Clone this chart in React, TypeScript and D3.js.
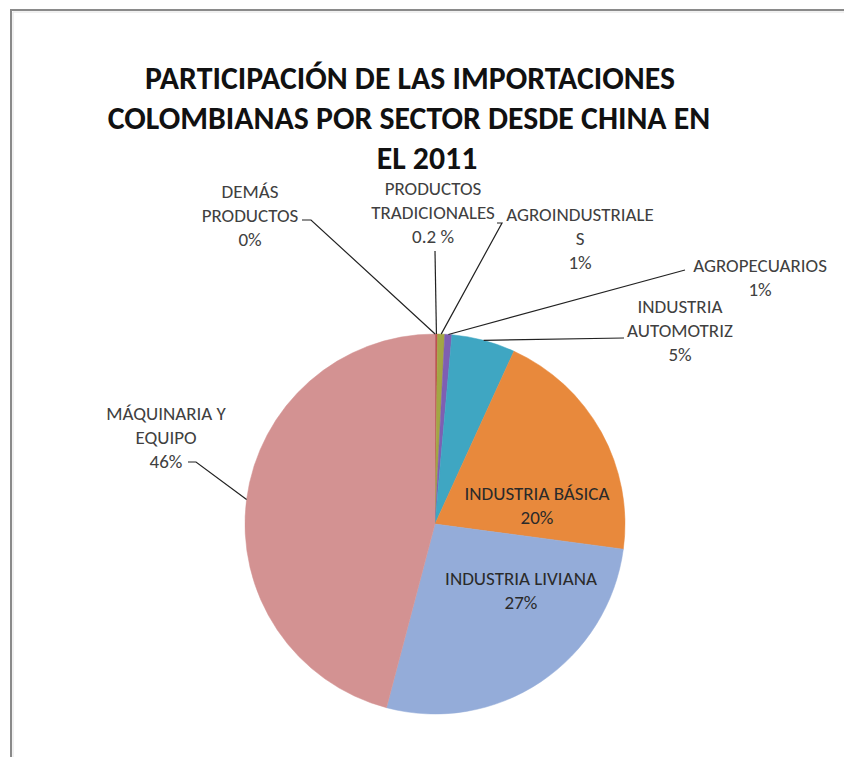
import * as d3 from "d3";

// data (percent of imports, 2011)
const sectors = [
    "DEMÁS PRODUCTOS",
    "PRODUCTOS TRADICIONALES",
    "AGROINDUSTRIALES",
    "AGROPECUARIOS",
    "INDUSTRIA AUTOMOTRIZ",
    "INDUSTRIA BÁSICA",
    "INDUSTRIA LIVIANA",
    "MÁQUINARIA Y EQUIPO",
];
const shares = [0.02, 0.2, 0.6, 0.6, 5.4, 20.3, 27, 45.9];
const shareLabels = ["0%", "0.2 %", "1%", "1%", "5%", "20%", "27%", "46%"];
// how the labels break over lines in the original
const labelLines = [
    ["DEMÁS", "PRODUCTOS"],
    ["PRODUCTOS", "TRADICIONALES"],
    ["AGROINDUSTRIALE", "S"],
    ["AGROPECUARIOS"],
    ["INDUSTRIA", "AUTOMOTRIZ"],
    ["INDUSTRIA BÁSICA"],
    ["INDUSTRIA LIVIANA"],
    ["MÁQUINARIA Y", "EQUIPO"],
];
const titleLines = [
    "PARTICIPACIÓN DE LAS IMPORTACIONES",
    "COLOMBIANAS POR SECTOR DESDE CHINA EN",
    "EL 2011",
];

const colors = ["#4F81BD", "#C0504D", "#A2A644", "#7E5FB3", "#3FA6C2", "#E8893C", "#94ACD9", "#D39292"];

// label placement: text center x, first baseline y, leader elbow points (null = inside label)
const labelLayout: { x: number, y: number, leader: [number, number][] | null }[] = [
    { x: 250, y: 198, leader: [[311, 220], [302, 220]] },
    { x: 433, y: 195, leader: [[435, 251]] },
    { x: 580, y: 221, leader: [[502, 223], [497, 223]] },
    { x: 760, y: 272, leader: [[685, 270]] },
    { x: 680, y: 313, leader: [[624, 338]] },
    { x: 537, y: 500, leader: null },
    { x: 521, y: 585, leader: null },
    { x: 166, y: 420, leader: [[196, 462], [188, 462]] },
];
const titleX = [410, 409, 427];

const App = () => {
    const width = 844;
    const height = 757;
    const cx = 435;
    const cy = 524;
    const radius = 190;
    const lineH = 24;
    const font = "Carlito, Calibri, Lato, sans-serif";

    const pie = d3.pie<number>().sort(null).value(d => d);
    const arcs = pie(shares);
    const arc = d3.arc<d3.PieArcDatum<number>>().innerRadius(0).outerRadius(radius);
    const edge = d3.arc<d3.PieArcDatum<number>>().innerRadius(radius).outerRadius(radius);
    const leaderLine = d3.line();

    return (
        <svg width={width} height={height} style={{ position: 'absolute', left: 0, top: 0, background: '#fff' }}>
            <path d={`M11,${height} L11,10 L${width},10`} fill="none" stroke="#8a8a8a" strokeWidth={2} />
            <path d={`M13,${height} L13,12 L${width},12`} fill="none" stroke="#e2e2e2" strokeWidth={1} />

            <g fontFamily={font} fontWeight="bold" fontSize={31.8} fill="#111" textAnchor="middle">
                { titleLines.map((t, i) => <text key={i} x={titleX[i]} y={89 + i * 40}>{t}</text>) }
            </g>

            <g transform={`translate(${cx},${cy})`}>
                { arcs.map((a, i) => (
                    <path key={i} d={arc(a) ?? ""} fill={colors[i]} stroke={colors[i]} strokeWidth={0.5} />
                )) }
            </g>

            <g fill="none" stroke="#222" strokeWidth={1.2}>
                { arcs.map((a, i) => {
                    const lay = labelLayout[i];
                    if (!lay.leader) return null;
                    const [ex, ey] = edge.centroid(a);
                    const pts: [number, number][] = [[cx + ex, cy + ey], ...lay.leader];
                    return <path key={i} d={leaderLine(pts) ?? ""} />;
                }) }
            </g>

            <g fontFamily={font} fontSize={19} textAnchor="middle">
                { sectors.map((s, i) => {
                    const lay = labelLayout[i];
                    const lines = [...labelLines[i], shareLabels[i]];
                    return (
                        <text key={s} fill={lay.leader ? "#404040" : "#2a2a2a"}>
                            { lines.map((l, j) => <tspan key={j} x={lay.x} y={lay.y + j * lineH}>{l}</tspan>) }
                        </text>
                    );
                }) }
            </g>
        </svg>
    );
};

export default App;
